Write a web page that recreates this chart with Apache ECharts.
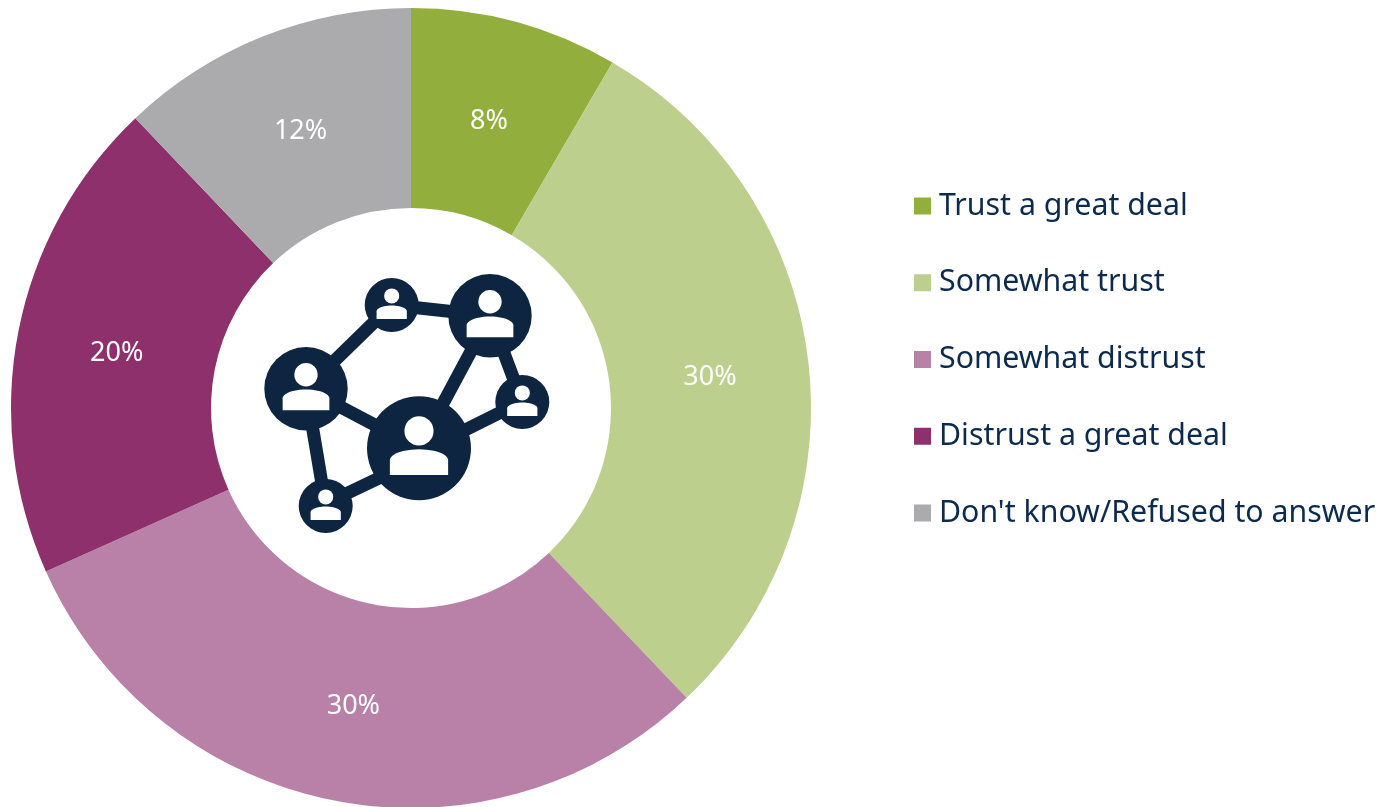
<!DOCTYPE html>
<html>
<head>
<meta charset="utf-8">
<title>Trust</title>
<style>
  html, body { margin: 0; padding: 0; background: #fff; }
  #chart-container { width: 1385px; height: 807px; }
</style>
<script src="https://cdn.jsdelivr.net/npm/echarts@6/dist/echarts.min.js"></script>
</head>
<body>
<div id="chart-container"></div>
<script>
var categories = ['Trust a great deal', 'Somewhat trust', 'Somewhat distrust', 'Distrust a great deal', "Don't know/Refused to answer"];
var values = [8.4, 29.5, 30.4, 19.6, 12.1];
var percentLabels = ['8%', '30%', '30%', '20%', '12%'];
var colors = ['#92AF3E', '#BCCF8D', '#B981A8', '#8D306C', '#ABABAD'];

var navy = '#0D2541';
var fontName = '"Noto Sans", sans-serif';

// small nudges so the slice labels sit where the original has them
var labelShift = [[-1, 6], [-2, 4], [1, 1], [3, 4], [2, 5]];

// network icon in the hole of the donut
var nodes = [
  [391.7, 305, 27],
  [490, 315.7, 41.7],
  [306, 388.7, 41.7],
  [419, 448.3, 52],
  [522.3, 402, 27],
  [325.7, 506, 27]
];
var links = [
  [391.7, 305, 490, 315.7],
  [391.7, 305, 306, 388.7],
  [490, 315.7, 419, 448.3],
  [490, 315.7, 522.3, 402],
  [306, 388.7, 419, 448.3],
  [306, 388.7, 325.7, 506],
  [419, 453, 522.3, 401.5],
  [419, 459, 325.7, 503.5]
];

// shoulders outline, relative to the node radius
function bodyPoints(n) {
  var r = n[2], pts = [];
  var top = n[1] + 0.02 * r, hw = 0.56 * r, shoulder = 0.21 * r, bottom = n[1] + 0.515 * r;
  pts.push([n[0] - hw, bottom]);
  for (var i = 0; i <= 24; i++) {
    var a = Math.PI - Math.PI * i / 24;
    pts.push([n[0] + hw * Math.cos(a), top + shoulder - shoulder * Math.sin(a)]);
  }
  pts.push([n[0] + hw, bottom]);
  return pts;
}

var iconParts = [];
links.forEach(function (l) {
  iconParts.push({
    type: 'line',
    shape: { x1: l[0], y1: l[1], x2: l[2], y2: l[3] },
    style: { stroke: navy, lineWidth: 13 }
  });
});
nodes.forEach(function (n) {
  var r = n[2];
  iconParts.push({ type: 'circle', shape: { cx: n[0], cy: n[1], r: r }, style: { fill: navy } });
  iconParts.push({ type: 'circle', shape: { cx: n[0], cy: n[1] - 0.335 * r, r: 0.28 * r }, style: { fill: '#fff' } });
  iconParts.push({ type: 'polygon', shape: { points: bodyPoints(n) }, style: { fill: '#fff' } });
});

var myChart = echarts.init(document.getElementById('chart-container'), null, { renderer: 'canvas' });

var option = {
  animation: false,
  color: colors,
  legend: {
    orient: 'vertical',
    left: 914,
    top: 188,
    padding: 0,
    itemWidth: 17,
    itemHeight: 17,
    itemGap: 40.75,
    icon: 'rect',
    selectedMode: false,
    data: categories,
    textStyle: {
      color: '#0B2A4D',
      fontFamily: fontName,
      fontSize: 30.3,
      lineHeight: 36,
      padding: [0, 0, 0, 3]
    }
  },
  series: [
    {
      type: 'pie',
      center: [411, 408],
      radius: [200, 400],
      startAngle: 90,
      clockwise: true,
      avoidLabelOverlap: false,
      label: {
        position: 'inside',
        color: '#fff',
        fontFamily: fontName,
        fontSize: 27,
        formatter: function (p) { return percentLabels[p.dataIndex]; }
      },
      labelLayout: function (p) {
        return { dx: labelShift[p.dataIndex][0], dy: labelShift[p.dataIndex][1] };
      },
      labelLine: { show: false },
      emphasis: { disabled: true },
      data: categories.map(function (c, i) { return { name: c, value: values[i] }; })
    }
  ],
  graphic: { elements: iconParts }
};

myChart.setOption(option);
window.addEventListener('resize', myChart.resize);
</script>
</body>
</html>
